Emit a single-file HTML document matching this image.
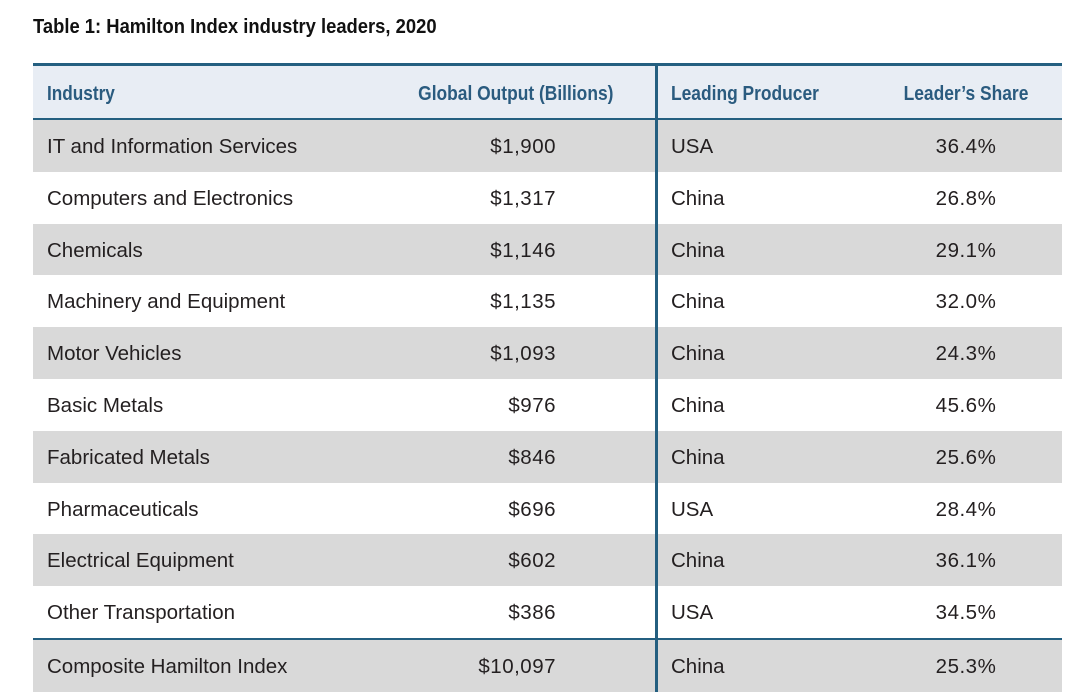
<!DOCTYPE html>
<html><head><meta charset="utf-8"><style>
*{margin:0;padding:0;box-sizing:border-box}
body{width:1080px;height:700px;background:#fff;position:relative;overflow:hidden;font-family:"Liberation Sans",Arial,sans-serif;color:#231f20}
.title{position:absolute;left:33px;top:14px;font-weight:bold;font-size:20px;line-height:26px;color:#111;white-space:nowrap;transform:scaleX(0.92);transform-origin:left center}
.bar{position:absolute;background:#245f80}
.hdr{position:absolute;left:33px;top:66px;width:1029px;height:52px;background:#e8edf4}
.h{position:absolute;top:68px;height:52px;line-height:52px;font-weight:bold;font-size:20px;color:#2a5b7f;white-space:nowrap}
.row{position:absolute;left:33px;width:1029px;height:51.8px}
.g{background:#d9d9d9}
.c{position:absolute;top:1px;height:100%;line-height:51.8px;font-size:20.5px;white-space:nowrap}
.c1{left:14px}
.c2{right:506px;text-align:right;letter-spacing:0.5px}
.c3{left:638px}
.c4{left:833px;width:200px;text-align:center;letter-spacing:0.5px}
</style></head><body>
<div class="title">Table 1: Hamilton Index industry leaders, 2020</div>

<div class="hdr"></div>
<div class="h" style="left:47px;transform:scaleX(0.86);transform-origin:left center">Industry</div>
<div class="h" style="right:467px;transform:scaleX(0.87);transform-origin:right center">Global Output (Billions)</div>
<div class="h" style="left:671px;transform:scaleX(0.87);transform-origin:left center">Leading Producer</div>
<div class="h" style="left:866px;width:200px;text-align:center;transform:scaleX(0.87);transform-origin:center center">Leader’s Share</div>

<div class="row g" style="top:120px"><div class="c c1">IT and Information Services</div><div class="c c2">$1,900</div><div class="c c3">USA</div><div class="c c4">36.4%</div></div>
<div class="row" style="top:171.8px"><div class="c c1">Computers and Electronics</div><div class="c c2">$1,317</div><div class="c c3">China</div><div class="c c4">26.8%</div></div>
<div class="row g" style="top:223.6px"><div class="c c1">Chemicals</div><div class="c c2">$1,146</div><div class="c c3">China</div><div class="c c4">29.1%</div></div>
<div class="row" style="top:275.4px"><div class="c c1">Machinery and Equipment</div><div class="c c2">$1,135</div><div class="c c3">China</div><div class="c c4">32.0%</div></div>
<div class="row g" style="top:327.2px"><div class="c c1">Motor Vehicles</div><div class="c c2">$1,093</div><div class="c c3">China</div><div class="c c4">24.3%</div></div>
<div class="row" style="top:379px"><div class="c c1">Basic Metals</div><div class="c c2">$976</div><div class="c c3">China</div><div class="c c4">45.6%</div></div>
<div class="row g" style="top:430.8px"><div class="c c1">Fabricated Metals</div><div class="c c2">$846</div><div class="c c3">China</div><div class="c c4">25.6%</div></div>
<div class="row" style="top:482.6px"><div class="c c1">Pharmaceuticals</div><div class="c c2">$696</div><div class="c c3">USA</div><div class="c c4">28.4%</div></div>
<div class="row g" style="top:534.4px"><div class="c c1">Electrical Equipment</div><div class="c c2">$602</div><div class="c c3">China</div><div class="c c4">36.1%</div></div>
<div class="row" style="top:586.2px"><div class="c c1">Other Transportation</div><div class="c c2">$386</div><div class="c c3">USA</div><div class="c c4">34.5%</div></div>
<div class="row g" style="top:640px;height:51.5px"><div class="c c1">Composite Hamilton Index</div><div class="c c2">$10,097</div><div class="c c3">China</div><div class="c c4">25.3%</div></div>

<div class="bar" style="left:33px;top:63px;width:1029px;height:3px"></div>
<div class="bar" style="left:33px;top:118px;width:1029px;height:2px"></div>
<div class="bar" style="left:33px;top:638px;width:1029px;height:2px"></div>
<div class="bar" style="left:655px;top:63px;width:3px;height:629px"></div>
</body></html>
